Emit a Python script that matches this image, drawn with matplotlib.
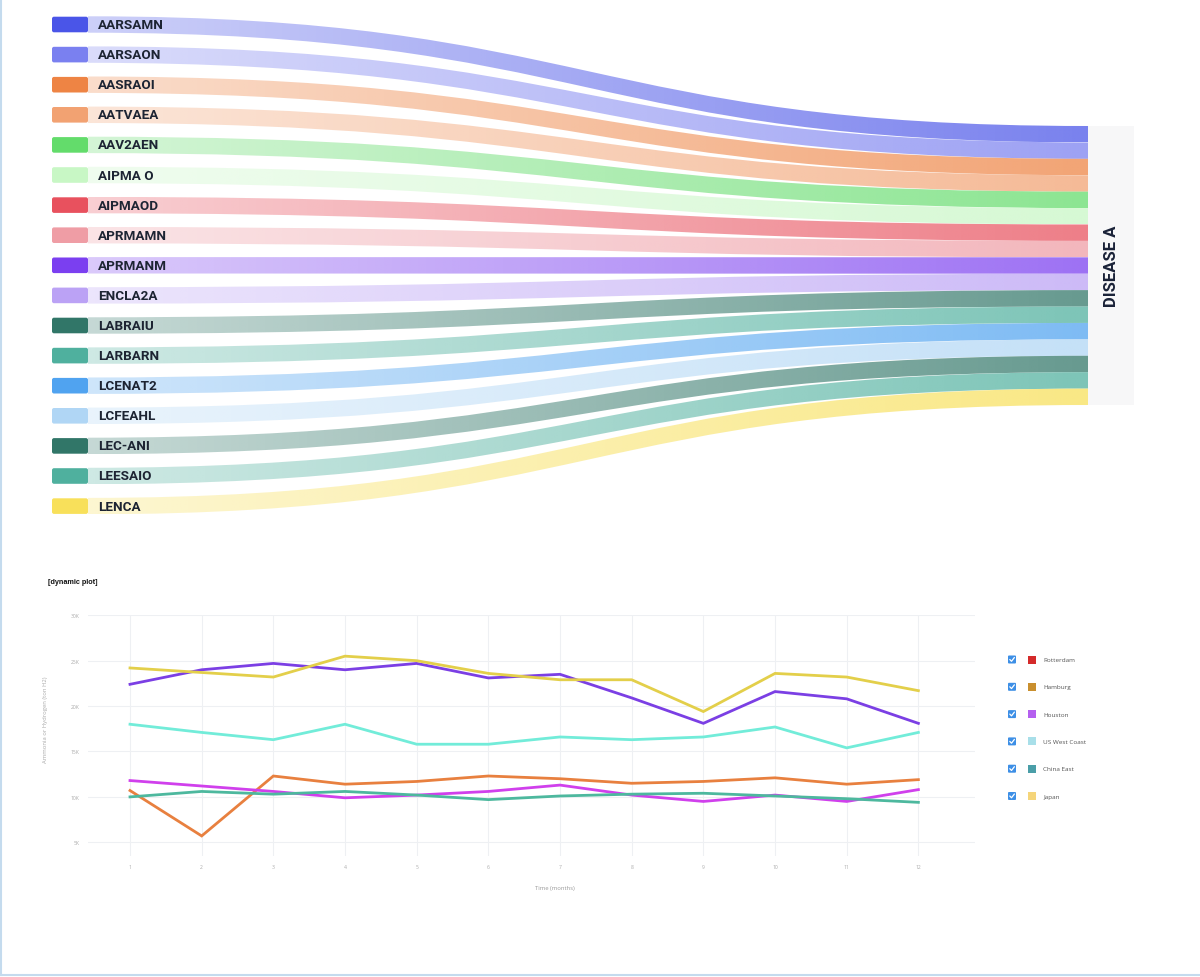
import matplotlib
matplotlib.use("Agg")
import matplotlib.pyplot as plt
import numpy as np
from matplotlib.path import Path
from matplotlib.patches import PathPatch, FancyBboxPatch, Rectangle
from matplotlib.colors import to_rgb
from matplotlib.ticker import FuncFormatter

# ---- sankey data ----
sources = ["AARSAMN", "AARSAON", "AASRAOI", "AATVAEA", "AAV2AEN", "AIPMA O",
           "AIPMAOD", "APRMAMN", "APRMANM", "ENCLA2A", "LABRAIU", "LARBARN",
           "LCENAT2", "LCFEAHL", "LEC-ANI", "LEESAIO", "LENCA"]
source_colors = ["#4a55e8", "#7a80f0", "#ee8444", "#f2a272", "#63dc6b", "#c8f7c5",
                 "#e8515e", "#ef9da5", "#7b3ff0", "#bba2f5", "#317668", "#4fb09e",
                 "#50a3f0", "#b0d6f5", "#317668", "#4fb09e", "#f8e05a"]
flow_values = [1, 1, 1, 1, 1, 1, 1, 1, 1, 1, 1, 1, 1, 1, 1, 1, 1]
target = "DISEASE A"

# ---- line chart data ----
months = [1, 2, 3, 4, 5, 6, 7, 8, 9, 10, 11, 12]
rotterdam = [22400, 24000, 24700, 24000, 24700, 23100, 23500, 20900, 18100, 21600, 20800, 18100]
hamburg = [10700, 5700, 12300, 11400, 11700, 12300, 12000, 11500, 11700, 12100, 11400, 11900]
houston = [11800, 11200, 10600, 9900, 10200, 10600, 11300, 10200, 9500, 10200, 9500, 10800]
us_west = [18000, 17100, 16300, 18000, 15800, 15800, 16600, 16300, 16600, 17700, 15400, 17100]
china_east = [10000, 10600, 10300, 10600, 10200, 9700, 10100, 10300, 10400, 10100, 9800, 9400]
japan = [24200, 23700, 23200, 25500, 25000, 23600, 22900, 22900, 19400, 23600, 23200, 21700]

series_names = ["Rotterdam", "Hamburg", "Houston", "US West Coast", "China East", "Japan"]
series_data = [rotterdam, hamburg, houston, us_west, china_east, japan]
line_colors = ["#7b3fe4", "#e8803f", "#d040ec", "#72ecd9", "#4db89e", "#e3cf4a"]
legend_colors = ["#d42a2a", "#c98f2e", "#b460ef", "#a8dfe9", "#4a9ea8", "#f5d57a"]

W, H = 1200, 978
fig = plt.figure(figsize=(W / 100, H / 100), dpi=100)
fig.patch.set_facecolor("white")

# background axes in pixel units, used for the sankey and the legend
bg = fig.add_axes([0, 0, 1, 1])
bg.set_xlim(0, W)
bg.set_ylim(H, 0)
bg.axis("off")

# page border (left / bottom)
bg.plot([1, 1], [0, H - 2], color="#c4dbee", lw=1.5)
bg.plot([0, W], [H - 2, H - 2], color="#c4dbee", lw=1.5)

# sankey layout
node_x0, node_x1 = 52, 88
right_x0, right_x1 = 1088, 1134
left_top, left_step = 25.5, 30.1
right_top, right_bottom = 127, 406
unit = (right_bottom - right_top) / sum(flow_values)

alpha_grad = np.linspace(0.28, 0.74, 256)
yr = right_top
for i, (name, col, val) in enumerate(zip(sources, source_colors, flow_values)):
    h = val * unit
    yc = left_top + i * left_step
    yl0, yl1 = yc - h / 2, yc + h / 2
    yr0, yr1 = yr, yr + h
    yr += h
    xm = (node_x1 + right_x0) / 2
    verts = [(node_x1, yl0), (xm, yl0), (xm, yr0), (right_x0, yr0),
             (right_x0, yr1), (xm, yr1), (xm, yl1), (node_x1, yl1), (node_x1, yl0)]
    codes = [Path.MOVETO, Path.CURVE4, Path.CURVE4, Path.CURVE4,
             Path.LINETO, Path.CURVE4, Path.CURVE4, Path.CURVE4, Path.CLOSEPOLY]
    patch = PathPatch(Path(verts, codes), facecolor="none", edgecolor="none")
    bg.add_patch(patch)
    rgba = np.zeros((1, 256, 4))
    rgba[..., :3] = to_rgb(col)
    rgba[..., 3] = alpha_grad
    ylo, yhi = min(yl0, yr0), max(yl1, yr1)
    im = bg.imshow(rgba, extent=(node_x1, right_x0, yhi, ylo), aspect="auto",
                   interpolation="bilinear", zorder=1)
    im.set_clip_path(patch)

    node = FancyBboxPatch((node_x0, yc - 7.8), node_x1 - node_x0, 15.6,
                          boxstyle="round,pad=0,rounding_size=2",
                          facecolor=col, edgecolor="none", zorder=3)
    bg.add_patch(node)
    bg.text(98, yc, name, fontsize=9.7, fontweight="bold", family="Roboto",
            color="#1d2433", va="center", ha="left", zorder=4)

bg.add_patch(Rectangle((right_x0, right_top), right_x1 - right_x0,
                       right_bottom - right_top, facecolor="#f7f7f8",
                       edgecolor="none", zorder=2))
bg.text((right_x0 + right_x1) / 2 + 1, (right_top + right_bottom) / 2, target,
        rotation=90, fontsize=12, fontweight="bold", family="Roboto",
        color="#1a2238", ha="center", va="center", zorder=4)

# ---- line chart ----
bg.text(48, 583, "[dynamic plot]", fontsize=5.2, fontweight="bold",
        family="Liberation Sans", color="#111111", va="center", ha="left")

ax = fig.add_axes([88 / W, 1 - 857 / H, (975 - 88) / W, (857 - 616) / H])
ax.patch.set_alpha(0)
for name, data, c in zip(series_names, series_data, line_colors):
    ax.plot(months, data, color=c, lw=2.0, label=name, solid_joinstyle="miter")

ax.set_xlim(0.414, 12.79)
ax.set_ylim(3490, 30033)
ax.set_xticks(months)
ax.set_yticks([5000, 10000, 15000, 20000, 25000, 30000])
ax.yaxis.set_major_formatter(FuncFormatter(lambda v, p: f"{int(v / 1000)}K"))
ax.grid(True, color="#eef0f3", lw=0.8)
ax.set_axisbelow(True)
for s in ax.spines.values():
    s.set_visible(False)
ax.tick_params(length=0, labelsize=3.6, labelcolor="#aaaaaa", pad=6)
for lab in ax.get_xticklabels() + ax.get_yticklabels():
    lab.set_family("Open Sans")
ax.set_xlabel("Time (months)", fontsize=4.2, color="#999999", family="Open Sans")
ax.set_ylabel("Ammonia or Hydrogen (ton H2)", fontsize=4.2, color="#aaaaaa",
              family="Open Sans")
ax.xaxis.set_label_coords(0.526, -0.12)
ax.yaxis.set_label_coords(-0.045, 0.57)

# legend with checkboxes
for i, (name, c) in enumerate(zip(series_names, legend_colors)):
    y = 660.5 + i * 27.3
    bg.add_patch(FancyBboxPatch((1008, y - 4), 8, 8,
                                boxstyle="round,pad=0,rounding_size=1",
                                facecolor="#3d8fe6", edgecolor="none", zorder=3))
    bg.plot([1009.8, 1011.5, 1014.4], [y, y + 1.8, y - 2], color="white",
            lw=0.9, zorder=4, solid_capstyle="round")
    bg.add_patch(Rectangle((1028, y - 4), 8, 8, facecolor=c, edgecolor="none", zorder=3))
    bg.text(1043, y, name, fontsize=4.6, color="#555555", family="Open Sans",
            va="center", ha="left")

bg.set_xlim(0, W)
bg.set_ylim(H, 0)

fig.savefig("out.png", dpi=100)
